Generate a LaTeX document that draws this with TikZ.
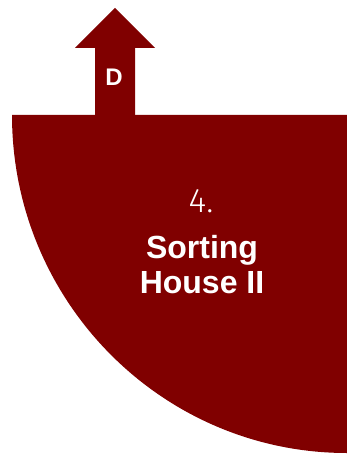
\documentclass[tikz,border=0pt]{standalone}
\usepackage{fontspec}
\setmainfont{Liberation Sans}
\newfontfamily\lightfont{Fira Sans Light}
\usetikzlibrary{positioning}
\definecolor{maroon}{RGB}{128,0,0}
\tikzset{
  house/.style={fill=maroon, draw=none},
  label/.style={text=white, font=\bfseries\fontsize{32}{35}\selectfont, align=center, inner sep=0pt},
  number/.style={text=white, font=\lightfont\fontsize{34}{38}\selectfont, inner sep=0pt},
  dir/.style={text=white, font=\bfseries\fontsize{24}{28}\selectfont, inner sep=0pt}
}
\begin{document}
\begin{tikzpicture}[x=1pt,y=-1pt]
  \useasboundingbox (0,0) rectangle (347,454);

  % quarter disc
  \fill[house] (12,115) -- (347,115) -- (347,453)
    arc[start angle=90, end angle=180, x radius=335, y radius=338] -- cycle;

  % exit arrow
  \fill[house] (95,116) -- (95,48) -- (75,48) -- (115,8)
    -- (155,48) -- (135,48) -- (135,116) -- cycle;

  \node[dir] (door) at (114,77) {D};
  \node[number, anchor=base] (num) at (201,212) {4.};
  \node[label, anchor=north] (name) at (202,235) {Sorting\\House II};
\end{tikzpicture}
\end{document}
